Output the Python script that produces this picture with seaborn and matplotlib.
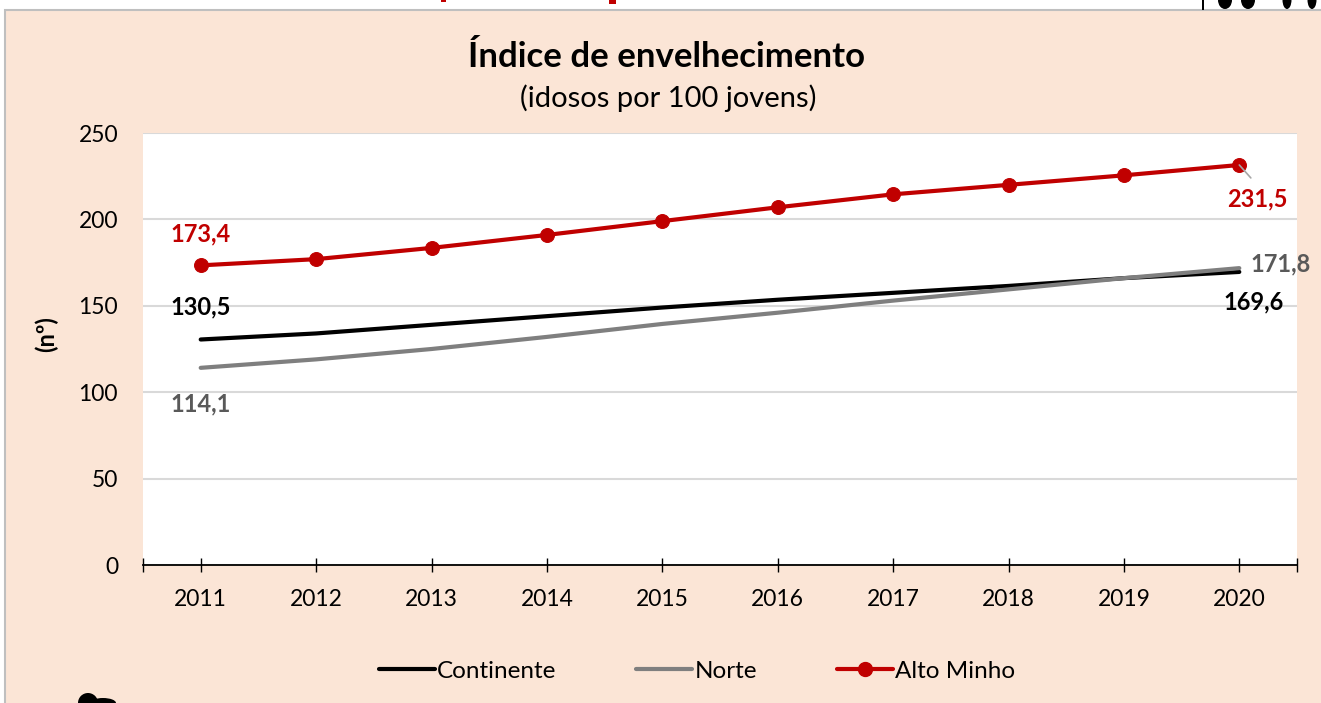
import pandas as pd
import numpy as np
import matplotlib
matplotlib.use('Agg')
import matplotlib.pyplot as plt
from matplotlib.lines import Line2D
from matplotlib.patches import Rectangle, Ellipse
import seaborn as sns

# valores
anos = ['2011', '2012', '2013', '2014', '2015', '2016', '2017', '2018', '2019', '2020']
continente = [130.5, 134.0, 139.0, 144.0, 149.0, 153.5, 157.5, 161.5, 166.0, 169.6]
norte = [114.1, 119.0, 125.0, 132.0, 139.5, 146.0, 153.0, 159.5, 166.0, 171.8]
alto_minho = [173.4, 177.0, 183.5, 191.0, 199.0, 207.0, 214.5, 220.0, 225.5, 231.5]

W, H = 1321, 703
PEACH = '#FBE5D6'
RED = '#C00000'
GREY = '#7F7F7F'
GREY_TXT = '#595959'

sns.set_theme(style='white')
plt.rcParams['font.family'] = ['Lato', 'DejaVu Sans']
plt.rcParams['text.color'] = 'black'


def fx(px):
    return px / W


def fy(py):
    return 1 - py / H


fig = plt.figure(figsize=(W / 100, H / 100), dpi=100, facecolor='white')

# fundo do painel (passa da margem direita e de baixo, sem borda visivel ai)
fig.add_artist(Rectangle((fx(5), -0.02), fx(W), fy(10) + 0.02, transform=fig.transFigure,
                         facecolor=PEACH, edgecolor='#BFBFBF', linewidth=1.5, zorder=-5))

ax = fig.add_axes([fx(143), fy(565), fx(1297 - 143), (565 - 133) / H])
ax.set_facecolor('white')

df = pd.DataFrame({'ano': anos, 'Continente': continente, 'Norte': norte, 'Alto Minho': alto_minho})
df = df.melt(id_vars='ano', var_name='serie', value_name='valor')

sns.lineplot(data=df[df.serie == 'Continente'], x='ano', y='valor', color='black', lw=3,
             ax=ax, errorbar=None, solid_capstyle='round', zorder=3)
sns.lineplot(data=df[df.serie == 'Norte'], x='ano', y='valor', color=GREY, lw=3,
             ax=ax, errorbar=None, solid_capstyle='round', zorder=4)
sns.lineplot(data=df[df.serie == 'Alto Minho'], x='ano', y='valor', color=RED, lw=3,
             marker='o', markersize=10, markeredgecolor=RED, ax=ax, errorbar=None, zorder=5)

ax.set_xlim(-0.5, 9.5)
ax.set_ylim(0, 250)
ax.set_yticks(range(0, 251, 50))
ax.set_xlabel('')
ax.set_ylabel('')
ax.grid(axis='y', color='#D9D9D9', lw=1.5)
ax.grid(axis='x', visible=False)
ax.set_axisbelow(True)
for s in ['top', 'left', 'right']:
    ax.spines[s].set_visible(False)
ax.spines['bottom'].set_color('black')
ax.spines['bottom'].set_linewidth(1.3)

ax.tick_params(axis='y', length=0, labelsize=16.5, pad=18, colors='black')
ax.tick_params(axis='x', length=0, labelsize=16.5, pad=17, colors='black')

# tracos do eixo x, centrados no eixo
ax.vlines(np.arange(10), -4, 4, color='black', lw=1, clip_on=False, zorder=6)
ax.vlines([-0.5, 9.5], -4, 4, color='black', lw=1, clip_on=False, zorder=6)

# rotulos de dados
bold = dict(fontsize=17, fontweight='bold', ha='center', va='center', zorder=7)
ax.text(0, 191.5, '173,4', color=RED, **bold)
ax.text(0, 149.5, '130,5', color='black', **bold)
ax.text(0, 93.5, '114,1', color=GREY_TXT, **bold)
ax.text(9.16, 212, '231,5', color=RED, **bold)
ax.text(9.36, 174.5, '171,8', color=GREY_TXT, clip_on=False, **bold)
ax.text(9.12, 152.5, '169,6', color='black', **bold)
ax.plot([9, 9.1], [231.5, 224], color='#A6A6A6', lw=1.2, zorder=6)

# titulos
fig.text(fx(667), fy(57), 'Índice de envelhecimento', fontsize=25, fontweight='bold',
         ha='center', va='center')
fig.text(fx(668), fy(98), '(idosos por 100 jovens)', fontsize=21,
         ha='center', va='center')
fig.text(fx(46), fy(334), '(nº)', fontsize=17, fontweight='bold', rotation=90,
         ha='center', va='center')

# legenda
handles = [
    Line2D([], [], color='black', lw=3),
    Line2D([], [], color=GREY, lw=3),
    Line2D([], [], color=RED, lw=3, marker='o', markersize=10),
]
fig.legend(handles, ['Continente', 'Norte', 'Alto Minho'], loc='center',
           bbox_to_anchor=(fx(697), fy(671)), ncol=3, frameon=False, fontsize=17.5,
           handlelength=2.3, handletextpad=0.08, columnspacing=3.3)

# restos de outros elementos cortados na captura
fig.add_artist(Rectangle((fx(609), fy(3.5)), fx(7), 3.5 / H, transform=fig.transFigure,
                         facecolor=RED, edgecolor='none'))
fig.add_artist(Rectangle((fx(441), fy(2)), fx(5), 2 / H, transform=fig.transFigure,
                         facecolor=RED, edgecolor='none'))
fig.add_artist(Rectangle((fx(1202), fy(10)), fx(2), 10 / H, transform=fig.transFigure,
                         facecolor='black', edgecolor='none'))
for cx, w in [(1225, 14), (1248, 14), (1287, 9), (1312, 9)]:
    fig.add_artist(Ellipse((fx(cx), fy(0)), fx(w), 18 / H, transform=fig.transFigure,
                           facecolor='black', edgecolor='none'))
fig.add_artist(Ellipse((fx(88), fy(703)), fx(20), 20 / H, transform=fig.transFigure,
                       facecolor='black', edgecolor='none'))
fig.add_artist(Ellipse((fx(103), fy(703)), fx(26), 10 / H, transform=fig.transFigure,
                       facecolor='black', edgecolor='none'))

fig.savefig('out.png', dpi=100, facecolor=fig.get_facecolor())
